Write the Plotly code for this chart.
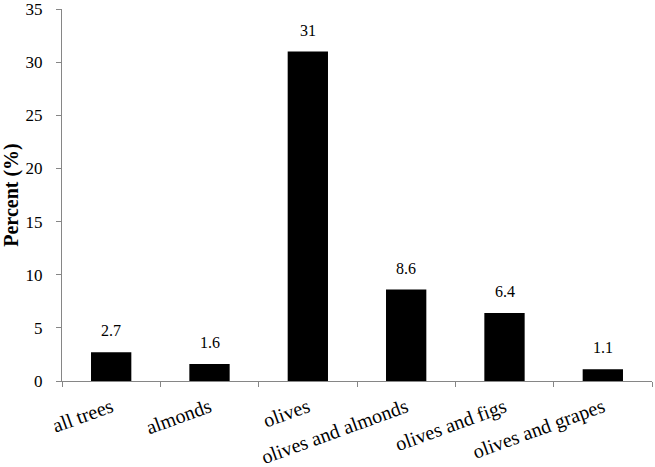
import plotly.graph_objects as go

categories = ['all trees', 'almonds', 'olives', 'olives and almonds', 'olives and figs', 'olives and grapes']
values = [2.7, 1.6, 31, 8.6, 6.4, 1.1]
labels = ['2.7', '1.6', '31', '8.6', '6.4', '1.1']

font_family = 'Liberation Serif, Times New Roman, serif'

fig = go.Figure(
    go.Bar(
        x=categories,
        y=values,
        marker=dict(color='black', line=dict(width=0)),
        hoverinfo='x+y',
    )
)

# value labels above bars
for cat, val, lab in zip(categories, values, labels):
    fig.add_annotation(
        x=cat, y=val, text=lab,
        showarrow=False, yanchor='bottom', yshift=11,
        font=dict(family=font_family, size=16, color='black'),
    )

fig.update_layout(
    width=655,
    height=467,
    margin=dict(l=62, r=3, t=9, b=86),
    plot_bgcolor='white',
    paper_bgcolor='white',
    bargap=0.59,
    showlegend=False,
    font=dict(family=font_family, color='black'),
)

fig.update_xaxes(
    automargin=False,
    showline=True,
    linecolor='#868686',
    linewidth=1,
    ticks='outside',
    tickson='boundaries',
    ticklen=5,
    tickcolor='#868686',
    tickangle=-20,
    ticklabelstandoff=6,
    ticklabeloverflow='allow',
    tickfont=dict(family=font_family, size=20, color='black'),
    showgrid=False,
)

fig.update_yaxes(
    automargin=False,
    range=[0, 35.001],
    tickvals=[0, 5, 10, 15, 20, 25, 30, 35],
    showline=True,
    linecolor='#868686',
    linewidth=1,
    ticks='outside',
    ticklen=5,
    tickcolor='#868686',
    ticklabelstandoff=10,
    ticklabeloverflow='allow',
    tickfont=dict(family=font_family, size=17, color='black'),
    showgrid=False,
    zeroline=False,
    title=dict(text='<b>Percent (%)</b>', font=dict(family=font_family, size=20, color='black'), standoff=4),
)

# drop the default page margin so the figure sits at the window's corner
fig.write_html('out.html', config={'displayModeBar': False},
               post_script="document.body.style.margin='0';")
